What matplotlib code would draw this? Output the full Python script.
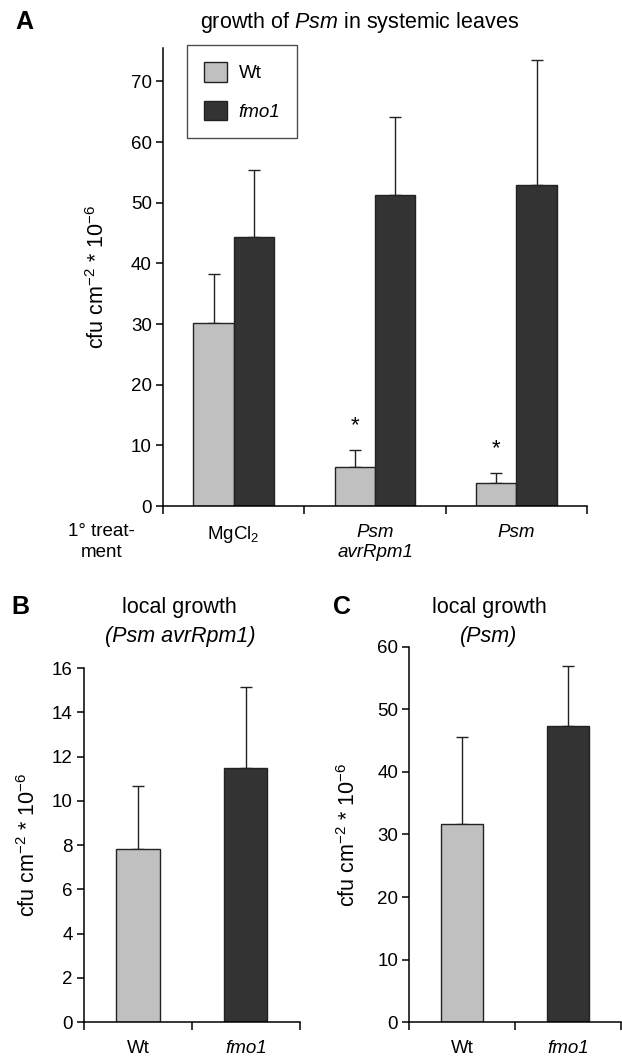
import numpy as np
import matplotlib
matplotlib.use('Agg')
import matplotlib.pyplot as plt

plt.rcParams['font.family'] = ['Liberation Sans', 'DejaVu Sans']
plt.rcParams['mathtext.fontset'] = 'custom'
plt.rcParams['mathtext.rm'] = 'Liberation Sans'
plt.rcParams['mathtext.it'] = 'Liberation Sans:italic'

# panel A: systemic growth after 1st treatment
treatments = ['MgCl$_2$', 'Psm\navrRpm1', 'Psm']
italic_labels = [False, True, True]
wt_sys = [30.2, 6.5, 3.8]
wt_sys_err = [8.0, 2.7, 1.6]
fmo1_sys = [44.4, 51.2, 53.0]
fmo1_sys_err = [11.0, 12.9, 20.6]
wt_signif = [False, True, True]

# panels B and C: local growth
genotypes = ['Wt', 'fmo1']
local_avr = [7.8, 11.5]
local_avr_err = [2.85, 3.65]
local_psm = [31.75, 47.3]
local_psm_err = [13.85, 9.65]

light = '#c0c0c0'
dark = '#333333'
ylab = 'cfu cm$^{-2}$ * 10$^{-6}$'

fig = plt.figure(figsize=(6.22, 10.58), dpi=100)


def style_axes(ax, ymax, ticksize):
    for s in ['top', 'right']:
        ax.spines[s].set_visible(False)
    for s in ['left', 'bottom']:
        ax.spines[s].set_linewidth(1.1)
    ax.set_ylim(0, ymax)
    ax.tick_params(axis='y', which='major', length=5, width=1.1,
                   labelsize=ticksize, pad=3)
    ax.tick_params(axis='x', which='major', length=6, width=1.1,
                   labelbottom=False)
    ax.tick_params(axis='x', which='minor', length=0, labelsize=ticksize)


def upper_err(ax, x, y, e):
    ax.errorbar(x, y, yerr=[np.zeros(len(e)), e], fmt='none',
                ecolor='#222222', elinewidth=1.0, capsize=4, capthick=1.0,
                zorder=1)


# ---- A ----
axA = fig.add_axes([0.262, 0.5217, 0.682, 0.4329])
n = len(treatments)
centers = np.arange(n) + 0.5
w = 0.285
axA.bar(centers - w / 2, wt_sys, w, color=light, edgecolor='#222222',
        linewidth=1.0, label='Wt', zorder=2)
axA.bar(centers + w / 2, fmo1_sys, w, color=dark, edgecolor='#222222',
        linewidth=1.0, label='fmo1', zorder=2)
upper_err(axA, centers - w / 2, wt_sys, wt_sys_err)
upper_err(axA, centers + w / 2, fmo1_sys, fmo1_sys_err)
for i in range(n):
    if wt_signif[i]:
        axA.text(centers[i] - w / 2, wt_sys[i] + wt_sys_err[i] + 4.0, '*',
                 ha='center', va='center', fontsize=16)
axA.set_xlim(0, n)
axA.set_xticks(np.arange(n + 1))
axA.set_xticks(centers, treatments, minor=True)
style_axes(axA, 75.5, 13.5)
axA.tick_params(axis='x', which='minor', pad=13)
for lab, it in zip(axA.get_xticklabels(minor=True), italic_labels):
    lab.set_linespacing(1.25)
    if it:
        lab.set_fontstyle('italic')
axA.set_yticks(np.arange(0, 71, 10))
axA.text(-0.145, -0.038, '1° treat-\nment', transform=axA.transAxes,
         ha='center', va='top', fontsize=13.5, linespacing=1.25)
axA.set_ylabel(ylab, fontsize=15.5)
axA.yaxis.set_label_coords(-0.128, 0.5)
leg = axA.legend(loc='upper left', bbox_to_anchor=(0.057, 1.007),
                 frameon=True, fancybox=False, edgecolor='#222222',
                 fontsize=13.5, handlelength=1.25, handleheight=1.25,
                 labelspacing=1.0, borderpad=0.9, handletextpad=0.6,
                 borderaxespad=0)
leg.get_frame().set_linewidth(1.0)
leg.get_texts()[1].set_fontstyle('italic')
fig.text(0.039, 0.979, 'A', fontsize=18, fontweight='bold',
         ha='center', va='center')
fig.text(0.578, 0.979, 'growth of $\\mathit{Psm}$ in systemic leaves',
         fontsize=15.5, ha='center', va='center')


# ---- B and C ----
def local_panel(rect, vals, errs, ymax, step, letter, lx, tx, sub):
    ax = fig.add_axes(rect)
    pos = np.arange(len(genotypes)) + 0.5
    ax.bar(pos, vals, 0.4, color=[light, dark], edgecolor='#222222',
           linewidth=1.0, zorder=2)
    upper_err(ax, pos, vals, errs)
    ax.set_xlim(0, len(genotypes))
    ax.set_xticks(np.arange(len(genotypes) + 1))
    ax.set_xticks(pos, genotypes, minor=True)
    style_axes(ax, ymax, 13.5)
    ax.tick_params(axis='x', which='minor', pad=13)
    ax.get_xticklabels(minor=True)[1].set_fontstyle('italic')
    ax.set_yticks(np.arange(0, ymax + 0.1, step))
    ax.set_ylabel(ylab, fontsize=15.5)
    fig.text(lx, 0.426, letter, fontsize=18, fontweight='bold',
             ha='center', va='center')
    fig.text(tx, 0.426, 'local growth', fontsize=15.5, ha='center',
             va='center')
    fig.text(tx, 0.3985, sub, fontsize=15.5, ha='center', va='center',
             fontstyle='italic')
    return ax


axB = local_panel([0.135, 0.034, 0.347, 0.3346], local_avr, local_avr_err,
                  16, 2, 'B', 0.032, 0.289, '(Psm avrRpm1)')
axB.yaxis.set_label_coords(-0.205, 0.5)
axC = local_panel([0.658, 0.034, 0.34, 0.3545], local_psm, local_psm_err,
                  60, 10, 'C', 0.55, 0.786, '(Psm)')
axC.yaxis.set_label_coords(-0.235, 0.5)

fig.savefig('out.png', dpi=100)
